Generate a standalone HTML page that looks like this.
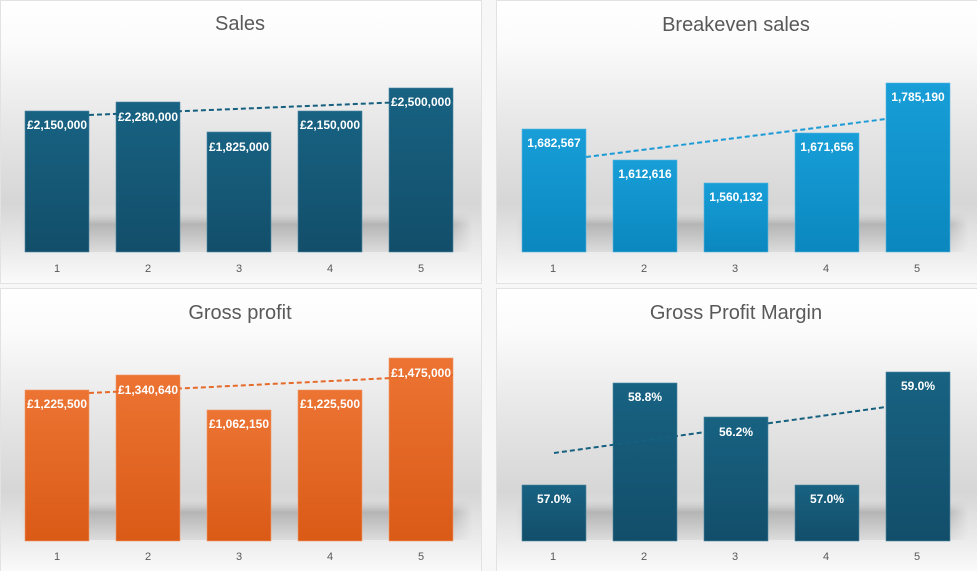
<!DOCTYPE html>
<html><head><meta charset="utf-8"><style>
html,body{margin:0;padding:0;background:#fff;}
svg{display:block;font-family:"Liberation Sans",sans-serif;}
</style></head><body>
<svg width="977" height="571" viewBox="0 0 977 571">
<defs>
<linearGradient id="bg" x1="0" y1="0" x2="0" y2="1">
<stop offset="0" stop-color="#ffffff"/><stop offset="0.15" stop-color="#fbfbfb"/><stop offset="0.45" stop-color="#e6e6e6"/><stop offset="0.72" stop-color="#d6d6d6"/><stop offset="0.86" stop-color="#e8e8e8"/><stop offset="1" stop-color="#fafafa"/>
</linearGradient>
<linearGradient id="sh" x1="0" y1="0" x2="0" y2="1">
<stop offset="0" stop-color="#c8c8c8" stop-opacity="0"/><stop offset="0.3" stop-color="#b4b4b4"/><stop offset="1" stop-color="#dcdcdc"/>
</linearGradient>
<linearGradient id="shx" x1="0" y1="0" x2="1" y2="0">
<stop offset="0" stop-color="#fff" stop-opacity="0"/><stop offset="0.08" stop-color="#fff" stop-opacity="1"/><stop offset="0.95" stop-color="#fff" stop-opacity="1"/><stop offset="1" stop-color="#fff" stop-opacity="0"/>
</linearGradient>
<mask id="m"><rect x="20" y="210" width="452" height="42" fill="url(#shx)"/></mask>
<linearGradient id="dk" x1="0" y1="0" x2="0" y2="1"><stop offset="0" stop-color="#186282"/><stop offset="1" stop-color="#124e6a"/></linearGradient>
<linearGradient id="lb" x1="0" y1="0" x2="0" y2="1"><stop offset="0" stop-color="#189ed8"/><stop offset="1" stop-color="#0a87be"/></linearGradient>
<linearGradient id="or" x1="0" y1="0" x2="0" y2="1"><stop offset="0" stop-color="#ec7433"/><stop offset="1" stop-color="#da5a16"/></linearGradient>
<g id="panel">
<rect x="0.5" y="0.5" width="481" height="283" fill="url(#bg)" stroke="#e2e2e2"/>
<rect x="20" y="212" width="452" height="40" fill="url(#sh)" mask="url(#m)"/>
<g fill="#595959" font-size="11" text-anchor="middle">
<text x="57" y="272">1</text><text x="148" y="272">2</text><text x="239" y="272">3</text><text x="330" y="272">4</text><text x="421" y="272">5</text>
</g>
</g>
</defs>
<rect width="977" height="571" fill="#f7f7f7"/>
<use href="#panel" x="0" y="0"/>
<g>
<text x="240" y="30" font-size="20" fill="#595959" text-anchor="middle">Sales</text>
<g fill="url(#dk)" stroke="#4d87a3" stroke-width="0.6">
<rect x="25" y="111" width="64" height="141"/><rect x="116" y="102" width="64" height="150"/><rect x="207" y="132" width="64" height="120"/><rect x="298" y="111" width="64" height="141"/><rect x="389" y="88" width="64" height="164"/>
</g>
<line x1="89" y1="115" x2="453" y2="100" stroke="#15607f" stroke-width="2" stroke-dasharray="5,3"/>
<g fill="#fff" font-size="12" font-weight="bold" text-anchor="middle">
<text x="57" y="129">£2,150,000</text><text x="148" y="121">£2,280,000</text><text x="239" y="151">£1,825,000</text><text x="330" y="129">£2,150,000</text><text x="421" y="106">£2,500,000</text>
</g>
</g>
<use href="#panel" x="496" y="0"/>
<g>
<text x="736" y="31" font-size="20" fill="#595959" text-anchor="middle">Breakeven sales</text>
<g fill="url(#lb)" stroke="#5ab6e0" stroke-width="0.6">
<rect x="522" y="129" width="64" height="123"/><rect x="613" y="160" width="64" height="92"/><rect x="704" y="183" width="64" height="69"/><rect x="795" y="133" width="64" height="119"/><rect x="886" y="83" width="64" height="169"/>
</g>
<line x1="586" y1="157" x2="886" y2="119" stroke="#1a9ad6" stroke-width="2" stroke-dasharray="5,3"/>
<g fill="#fff" font-size="12" font-weight="bold" text-anchor="middle">
<text x="554" y="147">1,682,567</text><text x="645" y="178">1,612,616</text><text x="736" y="201">1,560,132</text><text x="827" y="151">1,671,656</text><text x="918" y="101">1,785,190</text>
</g>
</g>
<use href="#panel" x="0" y="288"/>
<g>
<text x="240" y="319" font-size="20" fill="#595959" text-anchor="middle">Gross profit</text>
<g fill="url(#or)" stroke="#f09a6a" stroke-width="0.6">
<rect x="25" y="390" width="64" height="151"/><rect x="116" y="375" width="64" height="166"/><rect x="207" y="410" width="64" height="131"/><rect x="298" y="390" width="64" height="151"/><rect x="389" y="358" width="64" height="183"/>
</g>
<line x1="89" y1="393" x2="453" y2="375" stroke="#e46b2a" stroke-width="2" stroke-dasharray="5,3"/>
<g fill="#fff" font-size="12" font-weight="bold" text-anchor="middle">
<text x="57" y="408">£1,225,500</text><text x="148" y="394">£1,340,640</text><text x="239" y="428">£1,062,150</text><text x="330" y="408">£1,225,500</text><text x="421" y="377">£1,475,000</text>
</g>
</g>
<use href="#panel" x="496" y="288"/>
<g>
<text x="736" y="319" font-size="20" fill="#595959" text-anchor="middle">Gross Profit Margin</text>
<g fill="url(#dk)" stroke="#4d87a3" stroke-width="0.6">
<rect x="522" y="485" width="64" height="56"/><rect x="613" y="383" width="64" height="158"/><rect x="704" y="417" width="64" height="124"/><rect x="795" y="485" width="64" height="56"/><rect x="886" y="372" width="64" height="169"/>
</g>
<line x1="554" y1="453" x2="886" y2="407" stroke="#15607f" stroke-width="2" stroke-dasharray="5,3"/>
<g fill="#fff" font-size="12" font-weight="bold" text-anchor="middle">
<text x="554" y="503">57.0%</text><text x="645" y="401">58.8%</text><text x="736" y="436">56.2%</text><text x="827" y="503">57.0%</text><text x="918" y="390">59.0%</text>
</g>
</g>
</svg>
</body></html>
